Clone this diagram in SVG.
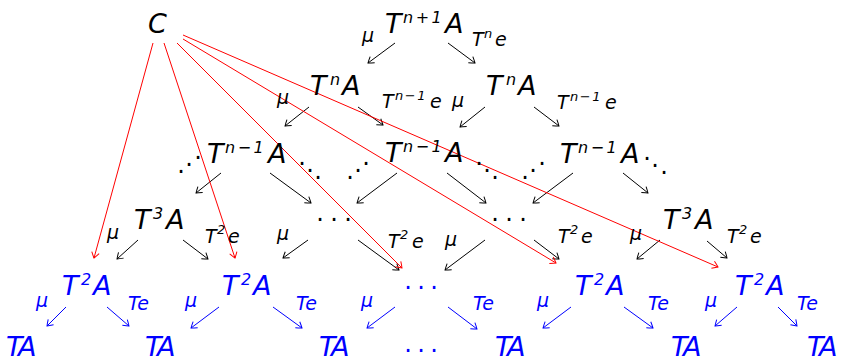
<svg xmlns="http://www.w3.org/2000/svg" width="841" height="361" viewBox="0 0 841 361">
<defs>
<style>
text{font-family:"DejaVu Sans",sans-serif;font-style:oblique;}
.m{font-size:27px}
.ta{letter-spacing:-2px}
.s{font-size:16px;letter-spacing:2.5px}
.l{font-size:19px}
.ls{font-size:13px;letter-spacing:1.5px}
.d{font-family:"DejaVu Sans",sans-serif;font-style:normal;font-size:24px;text-anchor:middle}
.k{fill:#000}
.b{fill:#0000ff}
.ck{stroke:#000;stroke-width:1;fill:none;marker-end:url(#ak)}
.cr{stroke:#ff0000;stroke-width:1;fill:none;marker-end:url(#ar)}
.cb{stroke:#0000ff;stroke-width:1;fill:none;marker-end:url(#ab)}
</style>
<marker id="ak" viewBox="-7 -5 9 10" markerWidth="9" markerHeight="10" refX="0" refY="0" orient="auto" markerUnits="userSpaceOnUse" overflow="visible"><path d="M-5.5,-3.8 Q-1.5,-1.2 0,0 Q-1.5,1.2 -5.5,3.8" fill="none" stroke="#000" stroke-width="1"/></marker>
<marker id="ar" viewBox="-7 -5 9 10" markerWidth="9" markerHeight="10" refX="0" refY="0" orient="auto" markerUnits="userSpaceOnUse" overflow="visible"><path d="M-5.5,-3.8 Q-1.5,-1.2 0,0 Q-1.5,1.2 -5.5,3.8" fill="none" stroke="#ff0000" stroke-width="1"/></marker>
<marker id="ab" viewBox="-7 -5 9 10" markerWidth="9" markerHeight="10" refX="0" refY="0" orient="auto" markerUnits="userSpaceOnUse" overflow="visible"><path d="M-5.5,-3.8 Q-1.5,-1.2 0,0 Q-1.5,1.2 -5.5,3.8" fill="none" stroke="#0000ff" stroke-width="1"/></marker>
</defs>

<g id="connectors">
<g id="black-arrows">
<line class="ck" x1="395" y1="43" x2="368" y2="63"/>
<line class="ck" x1="448" y1="43" x2="475" y2="63"/>
<line class="ck" x1="309" y1="107" x2="285" y2="126"/>
<line class="ck" x1="358" y1="107" x2="383" y2="125"/>
<line class="ck" x1="485" y1="107" x2="460" y2="127"/>
<line class="ck" x1="534" y1="107" x2="559" y2="126"/>
<line class="ck" x1="221" y1="173" x2="196" y2="193"/>
<line class="ck" x1="270" y1="173" x2="311" y2="203"/>
<line class="ck" x1="397" y1="173" x2="357" y2="203"/>
<line class="ck" x1="447" y1="173" x2="486" y2="203"/>
<line class="ck" x1="573" y1="173" x2="533" y2="203"/>
<line class="ck" x1="623" y1="173" x2="648" y2="193"/>
<line class="ck" x1="138" y1="240" x2="117" y2="259"/>
<line class="ck" x1="183" y1="240" x2="208" y2="259"/>
<line class="ck" x1="308" y1="240" x2="283" y2="258"/>
<line class="ck" x1="358" y1="240" x2="399" y2="270"/>
<line class="ck" x1="485" y1="240" x2="445" y2="270"/>
<line class="ck" x1="534" y1="240" x2="559" y2="259"/>
<line class="ck" x1="660" y1="240" x2="637" y2="259"/>
<line class="ck" x1="707" y1="241" x2="727" y2="258"/>
</g>
<g id="blue-arrows">
<line class="cb" x1="66" y1="307" x2="47" y2="326"/>
<line class="cb" x1="107" y1="307" x2="129" y2="326"/>
<line class="cb" x1="219" y1="307" x2="191" y2="328"/>
<line class="cb" x1="273" y1="307" x2="302" y2="328"/>
<line class="cb" x1="395" y1="307" x2="367" y2="328"/>
<line class="cb" x1="448" y1="307" x2="477" y2="329"/>
<line class="cb" x1="571" y1="307" x2="543" y2="328"/>
<line class="cb" x1="624" y1="307" x2="653" y2="328"/>
<line class="cb" x1="737" y1="307" x2="715" y2="326"/>
<line class="cb" x1="778" y1="307" x2="797" y2="326"/>
</g>
<g id="red-arrows">
<line class="cr" x1="153" y1="43" x2="94" y2="258"/>
<line class="cr" x1="164" y1="43" x2="235" y2="258"/>
<line class="cr" x1="177" y1="43" x2="402" y2="268"/>
<line class="cr" x1="183" y1="39" x2="556" y2="263"/>
<line class="cr" x1="183" y1="35" x2="718" y2="267"/>
</g>
<g id="labels">
<text class="l k" x="362" y="42">μ</text>
<text class="l k"><tspan x="472" y="46">T</tspan><tspan class="ls" x="484" y="38">n</tspan><tspan x="495" y="46">e</tspan></text>
<text class="l k" x="277" y="104">μ</text>
<text class="l k"><tspan x="382" y="108">T</tspan><tspan class="ls" x="395" y="100">n−1</tspan><tspan x="430" y="108">e</tspan></text>
<text class="l k" x="452" y="107">μ</text>
<text class="l k"><tspan x="557" y="109">T</tspan><tspan class="ls" x="570" y="101">n−1</tspan><tspan x="605" y="109">e</tspan></text>
<text class="l k" x="107" y="239">μ</text>
<text class="l k"><tspan x="205" y="243">T</tspan><tspan class="ls" x="217" y="234">2</tspan><tspan x="228" y="243">e</tspan></text>
<text class="l k" x="277" y="240">μ</text>
<text class="l k"><tspan x="388" y="248">T</tspan><tspan class="ls" x="400" y="239">2</tspan><tspan x="412" y="248">e</tspan></text>
<text class="l k" x="445" y="246">μ</text>
<text class="l k"><tspan x="558" y="243">T</tspan><tspan class="ls" x="570" y="234">2</tspan><tspan x="581" y="243">e</tspan></text>
<text class="l k" x="630" y="240">μ</text>
<text class="l k"><tspan x="727" y="243">T</tspan><tspan class="ls" x="739" y="234">2</tspan><tspan x="750" y="243">e</tspan></text>
<text class="l b" x="36" y="307">μ</text>
<text class="l b" x="128" y="310">Te</text>
<text class="l b" x="185" y="307">μ</text>
<text class="l b" x="296" y="310">Te</text>
<text class="l b" x="361" y="307">μ</text>
<text class="l b" x="473" y="310">Te</text>
<text class="l b" x="537" y="307">μ</text>
<text class="l b" x="648" y="310">Te</text>
<text class="l b" x="705" y="307">μ</text>
<text class="l b" x="797" y="310">Te</text>
</g>
</g>

<g id="node-C"><text class="m k" x="148" y="33">C</text></g>
<g id="node-Tn1A"><text class="m k"><tspan x="385" y="33">T</tspan><tspan class="s" x="403" y="23">n+1</tspan><tspan x="445" y="33">A</tspan></text></g>
<g id="node-TnA-1"><text class="m k"><tspan x="310" y="95">T</tspan><tspan class="s" x="330" y="85">n</tspan><tspan x="342" y="95">A</tspan></text></g>
<g id="node-TnA-2"><text class="m k"><tspan x="486" y="95">T</tspan><tspan class="s" x="506" y="85">n</tspan><tspan x="518" y="95">A</tspan></text></g>
<g id="node-Tn-1A-1"><text class="m k"><tspan x="207" y="163">T</tspan><tspan class="s" x="225" y="153">n−1</tspan><tspan x="268" y="163">A</tspan></text></g>
<g id="node-Tn-1A-2"><text class="m k"><tspan x="385" y="162">T</tspan><tspan class="s" x="403" y="152">n−1</tspan><tspan x="445" y="162">A</tspan></text></g>
<g id="node-Tn-1A-3"><text class="m k"><tspan x="560" y="163">T</tspan><tspan class="s" x="578" y="153">n−1</tspan><tspan x="621" y="163">A</tspan></text></g>
<g id="dots-row2">
<text class="d k" x="181 189 198" y="180 173 166">···</text>
<text class="d k" x="302 310 318" y="172 179 186">···</text>
<text class="d k" x="350 358 366" y="186 179 172">···</text>
<text class="d k" x="479 487 495" y="172 179 186">···</text>
<text class="d k" x="525 533 542" y="186 179 172">···</text>
<text class="d k" x="647 655 664" y="167 174 181">···</text>
</g>
<g id="node-T3A-1"><text class="m k"><tspan x="134" y="229">T</tspan><tspan class="s" x="153" y="219">3</tspan><tspan x="166" y="229">A</tspan></text></g>
<g id="node-dots-3a"><text class="d k" x="320 334 348" y="228">···</text></g>
<g id="node-dots-3b"><text class="d k" x="495 509 523" y="228">···</text></g>
<g id="node-T3A-2"><text class="m k"><tspan x="663" y="229">T</tspan><tspan class="s" x="682" y="219">3</tspan><tspan x="695" y="229">A</tspan></text></g>
<g id="node-T2A-1"><text class="m b"><tspan x="62" y="295">T</tspan><tspan class="s" x="81" y="285">2</tspan><tspan x="93" y="295">A</tspan></text></g>
<g id="node-T2A-2"><text class="m b"><tspan x="222" y="295">T</tspan><tspan class="s" x="241" y="285">2</tspan><tspan x="253" y="295">A</tspan></text></g>
<g id="node-dots-4"><text class="d b" x="408 421 434" y="296">···</text></g>
<g id="node-T2A-3"><text class="m b"><tspan x="575" y="295">T</tspan><tspan class="s" x="594" y="285">2</tspan><tspan x="606" y="295">A</tspan></text></g>
<g id="node-T2A-4"><text class="m b"><tspan x="735" y="295">T</tspan><tspan class="s" x="754" y="285">2</tspan><tspan x="766" y="295">A</tspan></text></g>
<g id="node-TA-1"><text class="m b ta" x="6" y="356">TA</text></g>
<g id="node-TA-2"><text class="m b ta" x="145" y="356">TA</text></g>
<g id="node-TA-3"><text class="m b ta" x="319" y="356">TA</text></g>
<g id="node-dots-5"><text class="d b" x="408 421 434" y="352">...</text></g>
<g id="node-TA-4"><text class="m b ta" x="495" y="356">TA</text></g>
<g id="node-TA-5"><text class="m b ta" x="671" y="356">TA</text></g>
<g id="node-TA-6"><text class="m b ta" x="807" y="356">TA</text></g>
</svg>
